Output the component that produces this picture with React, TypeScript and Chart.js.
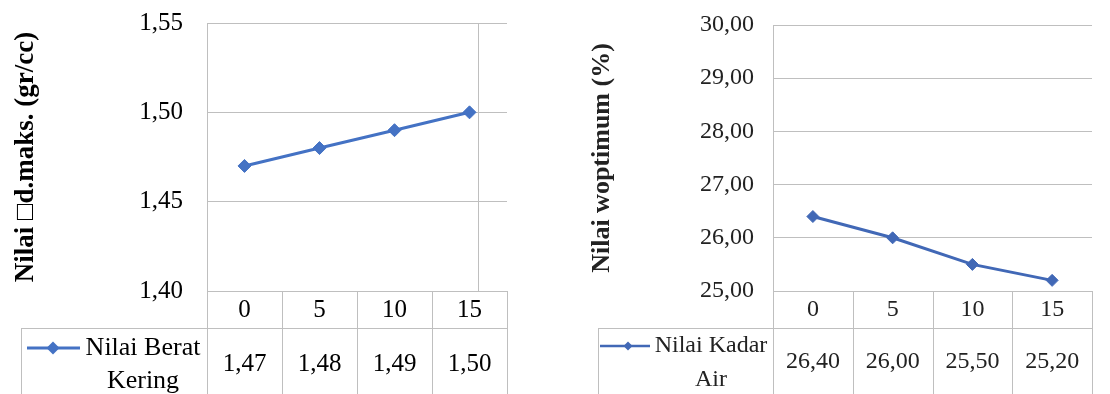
import { useEffect, useRef } from "react";
import { Chart, registerables } from "chart.js";

Chart.register(...registerables);

// Additive percentage (0, 5, 10, 15)
const categories = ["0", "5", "10", "15"];

// Maximum dry density (gr/cc)
const dryDensity = [1.47, 1.48, 1.49, 1.5];
const densityTicks = [1.4, 1.45, 1.5, 1.55];
const densityTitle = "Nilai \u25A1d.maks. (gr/cc)";
const densitySeries = ["Nilai Berat", "Kering"];

// Optimum moisture content (%)
const moistureContent = [26.4, 26.0, 25.5, 25.2];
const moistureTicks = [25, 26, 27, 28, 29, 30];
const moistureTitle = "Nilai woptimum (%)";
const moistureSeries = ["Nilai Kadar", "Air"];

const FONT = '"Liberation Serif", "Times New Roman", serif';
const GRID = "#BFBFBF";
const fmt = (v: number) => v.toFixed(2).replace(".", ",");

type Panel = {
  values: number[];
  ticks: number[];
  title: string;
  legend: string[];
  color: string;
  textColor: string;
  canvasLeft: number;
  width: number;
  padTop: number;
  padRight: number;
  axisWidth: number;
  tickPad: number;
  tickFont: number;
  titleFont: number;
  titlePad: number;
  legendFont: number;
  lineWidth: number;
  pointRadius: number;
  headerH: number;
  headerY: number;
  rowInset: number;
  keyFrom: number;
  keyTo: number;
  keyDot: number;
  keyR: number;
  keyW: number;
  keyY: number;
  textX: number;
  textY: number[];
  valueY: number;
  innerLine?: number;
  blur?: string;
};

const panels: Panel[] = [
  {
    values: dryDensity,
    ticks: densityTicks,
    title: densityTitle,
    legend: densitySeries,
    color: "#4472C4",
    textColor: "#000000",
    canvasLeft: 0,
    width: 530,
    padTop: 23,
    padRight: 23,
    axisWidth: 207,
    tickPad: 24,
    tickFont: 25,
    titleFont: 27,
    titlePad: 10,
    legendFont: 26,
    lineWidth: 3,
    pointRadius: 6.5,
    headerH: 37,
    headerY: 19,
    rowInset: 186,
    keyFrom: 6,
    keyTo: 59,
    keyDot: 32,
    keyR: 6.5,
    keyW: 3,
    keyY: 20,
    textX: 122,
    textY: [20, 53],
    valueY: 36,
    innerLine: 29,
  },
  {
    values: moistureContent,
    ticks: moistureTicks,
    title: moistureTitle,
    legend: moistureSeries,
    color: "#4168B6",
    textColor: "#222222",
    canvasLeft: 560,
    width: 550,
    padTop: 25,
    padRight: 18,
    axisWidth: 213,
    tickPad: 19,
    tickFont: 24,
    titleFont: 26,
    titlePad: 27,
    legendFont: 24,
    lineWidth: 3,
    pointRadius: 6,
    headerH: 37,
    headerY: 19,
    rowInset: 175,
    keyFrom: 2,
    keyTo: 52,
    keyDot: 30,
    keyR: 4.5,
    keyW: 2.5,
    keyY: 18,
    textX: 113,
    textY: [18, 52],
    valueY: 34,
    blur: "blur(0.5px)",
  },
];

const crisp = (v: number) => Math.round(v) + 0.5;

// Draws the data table (category header, legend key and values) under the plot.
const dataTablePlugin = {
  id: "dataTable",
  afterDraw(chart: any, _args: any, opts: any) {
    const p: Panel = opts.panel;
    const { ctx, chartArea: a } = chart;
    const xs = chart.scales.x;
    const H = chart.height;
    const n = categories.length;
    const centers = categories.map((_, i) => xs.getPixelForValue(i));
    const half = (centers[1] - centers[0]) / 2;
    const edges = centers.map((c) => c - half);
    edges.push(centers[n - 1] + half);
    const headerBottom = a.bottom + p.headerH;
    const rowLeft = a.left - p.rowInset;

    ctx.save();
    ctx.strokeStyle = GRID;
    ctx.lineWidth = 1;
    ctx.beginPath();
    for (const e of edges) {
      ctx.moveTo(crisp(e), a.bottom);
      ctx.lineTo(crisp(e), H);
    }
    ctx.moveTo(rowLeft, crisp(headerBottom));
    ctx.lineTo(a.right, crisp(headerBottom));
    ctx.moveTo(crisp(rowLeft), headerBottom);
    ctx.lineTo(crisp(rowLeft), H);
    if (p.innerLine) {
      ctx.moveTo(crisp(a.right - p.innerLine), a.top);
      ctx.lineTo(crisp(a.right - p.innerLine), a.bottom);
    }
    ctx.stroke();

    ctx.fillStyle = p.textColor;
    ctx.textAlign = "center";
    ctx.textBaseline = "middle";
    ctx.font = `${p.tickFont}px ${FONT}`;
    categories.forEach((c, i) => ctx.fillText(c, centers[i], a.bottom + p.headerY));
    p.values.forEach((v, i) => ctx.fillText(fmt(v), centers[i], headerBottom + p.valueY));

    ctx.font = `${p.legendFont}px ${FONT}`;
    p.legend.forEach((t, i) => ctx.fillText(t, rowLeft + p.textX, headerBottom + p.textY[i]));

    const ky = headerBottom + p.keyY;
    ctx.strokeStyle = p.color;
    ctx.lineWidth = p.keyW;
    ctx.beginPath();
    ctx.moveTo(rowLeft + p.keyFrom, ky);
    ctx.lineTo(rowLeft + p.keyTo, ky);
    ctx.stroke();
    const kx = rowLeft + p.keyDot;
    ctx.fillStyle = p.color;
    ctx.beginPath();
    ctx.moveTo(kx - p.keyR, ky);
    ctx.lineTo(kx, ky - p.keyR);
    ctx.lineTo(kx + p.keyR, ky);
    ctx.lineTo(kx, ky + p.keyR);
    ctx.closePath();
    ctx.fill();
    ctx.restore();
  },
};

function PanelChart({ p }: { p: Panel }) {
  const ref = useRef<HTMLCanvasElement>(null);
  useEffect(() => {
    if (!ref.current) return;
    const chart = new Chart(ref.current, {
      type: "line",
      data: {
        labels: categories,
        datasets: [
          {
            data: p.values,
            borderColor: p.color,
            backgroundColor: p.color,
            borderWidth: p.lineWidth,
            pointStyle: "rectRot",
            pointRadius: p.pointRadius,
            pointBorderWidth: 1,
            tension: 0,
          },
        ],
      },
      options: {
        responsive: false,
        animation: false,
        devicePixelRatio: 1,
        layout: { padding: { top: p.padTop, right: p.padRight, bottom: 103, left: 0 } },
        plugins: {
          legend: { display: false },
          tooltip: { enabled: false },
          dataTable: { panel: p },
        } as any,
        scales: {
          x: { display: false, offset: true },
          y: {
            min: p.ticks[0],
            max: p.ticks[p.ticks.length - 1],
            afterBuildTicks: (s: any) => {
              s.ticks = p.ticks.map((v) => ({ value: v }));
            },
            afterFit: (s: any) => {
              s.width = p.axisWidth;
            },
            ticks: {
              padding: 0,
              color: p.textColor,
              font: { family: FONT, size: p.tickFont },
              callback: (v: any) => fmt(Number(v)),
            },
            grid: {
              color: GRID,
              lineWidth: 1,
              drawTicks: true,
              tickLength: p.tickPad,
              tickColor: "rgba(0,0,0,0)",
            },
            border: { display: true, color: GRID, width: 1 },
            title: {
              display: true,
              text: p.title,
              color: p.textColor,
              font: { family: FONT, size: p.titleFont, weight: "bold" },
              padding: { top: p.titlePad, bottom: 0 },
            },
          },
        },
      },
      plugins: [dataTablePlugin],
    } as any);
    let alive = true;
    const fonts = (document as any).fonts;
    if (fonts && fonts.load) {
      Promise.all([
        fonts.load(`${p.tickFont}px "Liberation Serif"`),
        fonts.load(`bold ${p.titleFont}px "Liberation Serif"`),
      ])
        .then(() => {
          if (alive) chart.update();
        })
        .catch(() => {});
    }
    return () => {
      alive = false;
      chart.destroy();
    };
  }, [p]);
  return (
    <canvas
      ref={ref}
      width={p.width}
      height={394}
      style={{
        position: "absolute",
        left: p.canvasLeft,
        top: 0,
        width: p.width,
        height: 394,
        filter: p.blur,
      }}
    />
  );
}

export default function App() {
  return (
    <div
      style={{
        position: "fixed",
        left: 0,
        top: 0,
        width: 1110,
        height: 394,
        background: "#ffffff",
        overflow: "hidden",
      }}
    >
      {panels.map((p, i) => (
        <PanelChart key={i} p={p} />
      ))}
    </div>
  );
}
